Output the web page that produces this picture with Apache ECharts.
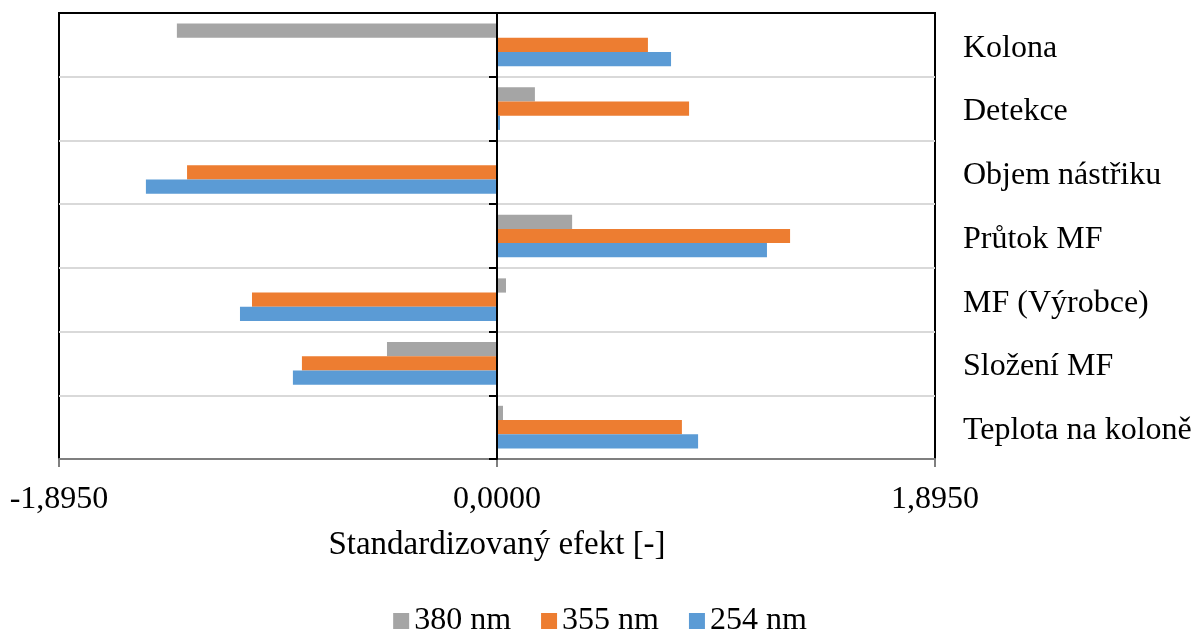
<!DOCTYPE html>
<html>
<head>
<meta charset="utf-8">
<script src="https://cdn.jsdelivr.net/npm/echarts@6/dist/echarts.min.js"></script>
<style>
  html, body { margin: 0; padding: 0; background: #fff; }
  #main { width: 1200px; height: 633px; }
</style>
</head>
<body>
<div id="main"></div>
<script>
  // kategorie odshora dolu
  var categories = ['Kolona', 'Detekce', 'Objem nástřiku', 'Průtok MF', 'MF (Výrobce)', 'Složení MF', 'Teplota na koloně'];
  var seriesNames = ['380 nm', '355 nm', '254 nm'];
  var values380 = [-1.385, 0.164, 0, 0.325, 0.039, -0.476, 0.026];
  var values355 = [0.653, 0.831, -1.341, 1.268, -1.060, -0.844, 0.800];
  var values254 = [0.753, 0.013, -1.519, 1.168, -1.112, -0.883, 0.870];
  var axisLimit = 1.895;

  var font = '"Liberation Serif", "Times New Roman", serif';
  var colors = ['#A5A5A5', '#ED7D31', '#5B9BD5'];

  var chart = echarts.init(document.getElementById('main'));

  function bar(name, data, color) {
    return {
      name: name,
      type: 'bar',
      data: data,
      yAxisIndex: 0,
      barGap: 0,
      barCategoryGap: '33%',
      itemStyle: { color: color },
      silent: true
    };
  }

  chart.setOption({
    animation: false,
    textStyle: { fontFamily: font },
    grid: {
      left: 59, right: 265, top: 13, bottom: 174,
      show: true, borderColor: '#000', borderWidth: 2, backgroundColor: '#fff'
    },
    legend: {
      top: 600,
      left: 'center',
      itemWidth: 16,
      itemHeight: 16,
      itemGap: 30,
      icon: 'rect',
      data: seriesNames,
      textStyle: { fontFamily: font, fontSize: 32, color: '#000' }
    },
    xAxis: {
      type: 'value',
      min: -axisLimit,
      max: axisLimit,
      interval: axisLimit,
      name: 'Standardizovaný efekt [-]',
      nameLocation: 'middle',
      nameGap: 70,
      nameTextStyle: { fontFamily: font, fontSize: 33, color: '#000' },
      axisLine: { show: true, onZero: false, lineStyle: { color: '#7f7f7f', width: 2 } },
      axisTick: { show: true, length: 8, lineStyle: { color: '#7f7f7f', width: 2 } },
      axisLabel: {
        margin: 25,
        fontFamily: font, fontSize: 32, color: '#000',
        formatter: function (v) { return v.toFixed(4).replace('.', ','); }
      },
      splitLine: { show: false }
    },
    yAxis: [
      {
        type: 'category',
        data: categories,
        inverse: true,
        position: 'right',
        axisLine: { show: false, onZero: false },
        axisTick: { show: false },
        axisLabel: {
          margin: 28, align: 'left',
          formatter: function (v) { return '{a|' + v + '}'; },
          rich: { a: { padding: [7, 0, 0, 0], fontFamily: font, fontSize: 32, color: '#000' } }
        },
        splitLine: { show: true, showMinLine: false, showMaxLine: false, lineStyle: { color: '#d9d9d9', width: 2 } }
      },
      {
        // nulova osa s carkami
        type: 'category',
        data: categories,
        inverse: true,
        position: 'left',
        axisLine: { show: true, onZero: true, lineStyle: { color: '#000', width: 2 } },
        axisTick: { show: true, length: 8, lineStyle: { color: '#000', width: 2 } },
        axisLabel: { show: false },
        splitLine: { show: false },
        z: 10
      }
    ],
    series: [
      bar(seriesNames[0], values380, colors[0]),
      bar(seriesNames[1], values355, colors[1]),
      bar(seriesNames[2], values254, colors[2])
    ]
  });
</script>
</body>
</html>
